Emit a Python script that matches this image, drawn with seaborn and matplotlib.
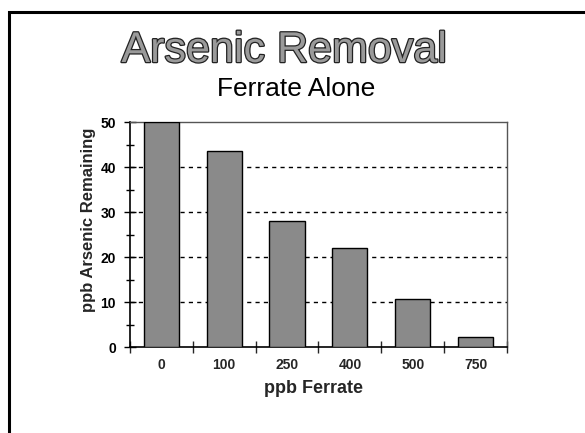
import matplotlib
matplotlib.use("Agg")
import matplotlib.pyplot as plt
import matplotlib.patheffects as pe
from matplotlib.patches import Rectangle
from matplotlib.ticker import MultipleLocator, FixedLocator
import seaborn as sns
import pandas as pd

# data
ferrate = ["0", "100", "250", "400", "500", "750"]
arsenic = [50, 43.6, 28, 21.9, 10.6, 2.2]

sns.set_style("white")
plt.rcParams["font.family"] = ["Liberation Sans", "DejaVu Sans"]

df = pd.DataFrame({"ferrate": ferrate, "arsenic": arsenic})

fig = plt.figure(figsize=(5.85, 4.33), dpi=100)
ax = fig.add_axes([0.2222, 0.1986, 0.6444, 0.5196])

sns.barplot(data=df, x="ferrate", y="arsenic", order=ferrate, color="#8a8a8a",
            edgecolor="black", linewidth=1, width=0.56, saturation=1, ax=ax, zorder=3)

ax.set_ylim(0, 50)
ax.set_xlim(-0.5, len(ferrate) - 0.5)
ax.yaxis.set_major_locator(MultipleLocator(10))
ax.yaxis.set_minor_locator(MultipleLocator(5))
ax.xaxis.set_minor_locator(FixedLocator([i - 0.5 for i in range(len(ferrate) + 1)]))

for y in [10, 20, 30, 40]:
    ax.axhline(y, color="black", linestyle=(0, (3, 3)), linewidth=1, zorder=1)

ax.tick_params(axis="y", which="both", direction="inout", left=True, length=8, width=1, colors="black",
               labelsize=10, pad=6)
ax.tick_params(axis="y", which="minor", length=6)
ax.tick_params(axis="x", which="major", length=0, labelsize=10, pad=8)
ax.tick_params(axis="x", which="minor", direction="inout", bottom=True, length=8, width=1)
for lab in ax.get_xticklabels() + ax.get_yticklabels():
    lab.set_fontweight("bold")

for side in ["left", "bottom"]:
    ax.spines[side].set_color("black")
    ax.spines[side].set_linewidth(1.2)
for side in ["top", "right"]:
    ax.spines[side].set_color("#555555")
    ax.spines[side].set_linewidth(1)

ax.set_xlabel("")
ax.set_ylabel("")
fig.text(313 / 585, 1 - 393 / 433, "ppb Ferrate", ha="center", va="baseline",
         fontsize=13, fontweight="bold")
fig.text(88 / 585, 1 - 220 / 433, "ppb Arsenic Remaining", ha="center", va="center",
         rotation=90, fontsize=12, fontweight="bold")

fig.text(284 / 585, 1 - 62 / 433, "Arsenic Removal", ha="center", va="baseline", fontsize=31,
         color="#9a9a9a", path_effects=[pe.withStroke(linewidth=1.8, foreground="#222222")])
fig.text(296 / 585, 1 - 96 / 433, "Ferrate Alone", ha="center", va="baseline", fontsize=19,
         color="black")

# slide frame
fig.patches.append(Rectangle((9 / 585, -0.1), 1.2, 1 - 12 / 433 + 0.1, transform=fig.transFigure,
                             fill=False, edgecolor="black", linewidth=2.2))

fig.savefig("out.png", dpi=100)
